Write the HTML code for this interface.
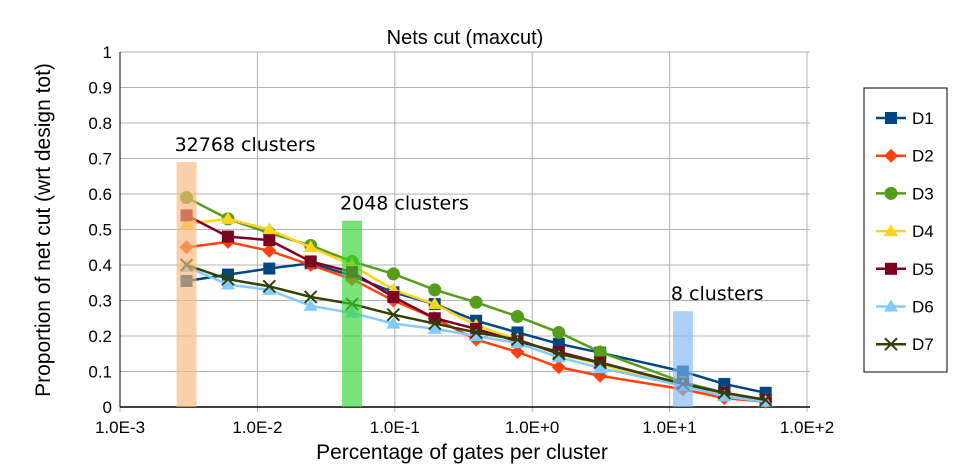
<!DOCTYPE html>
<html><head><meta charset="utf-8"><style>
body{margin:0;background:#fff;font-family:"Liberation Sans","DejaVu Sans",sans-serif}
</style></head><body>
<svg id="c" width="979" height="471" xmlns="http://www.w3.org/2000/svg"></svg>
<script>
const clusters=[32768,16384,8192,4096,2048,1024,512,256,128,64,32,8,4,2];
const seriesNames=["D1","D2","D3","D4","D5","D6","D7"];
const D1=[0.355,0.373,0.39,0.405,0.37,0.323,0.29,0.243,0.21,0.178,0.153,0.10,0.065,0.04];
const D2=[0.45,0.465,0.44,0.40,0.36,0.30,0.25,0.19,0.155,0.112,0.088,0.05,0.025,0.015];
const D3=[0.59,0.53,0.49,0.455,0.41,0.375,0.33,0.295,0.255,0.21,0.155,0.07,0.04,0.02];
const D4=[0.515,0.53,0.50,0.45,0.40,0.33,0.29,0.23,0.19,0.15,0.12,0.06,0.035,0.015];
const D5=[0.54,0.48,0.47,0.41,0.38,0.31,0.25,0.22,0.185,0.155,0.125,0.065,0.04,0.02];
const D6=[0.395,0.345,0.33,0.285,0.265,0.235,0.22,0.20,0.18,0.14,0.11,0.06,0.03,0.015];
const D7=[0.40,0.36,0.34,0.31,0.29,0.26,0.235,0.21,0.19,0.15,0.125,0.065,0.04,0.02];
const highlightClusters=[32768,2048,8];
const highlightHeights=[0.69,0.525,0.27];
const highlightLabels=["32768 clusters","2048 clusters","8 clusters"];
const xTickLabels=["1.0E-3","1.0E-2","1.0E-1","1.0E+0","1.0E+1","1.0E+2"];
const yTicks=[0,0.1,0.2,0.3,0.4,0.5,0.6,0.7,0.8,0.9,1];

const svg=document.getElementById('c');const NS="http://www.w3.org/2000/svg";
const L=120,R=810,T=52,B=407;
const xs=v=>L+(Math.log10(v)+3)*137.4;
const ys=v=>B-v*(B-T);
function mk(t,a,p){const e=document.createElementNS(NS,t);for(const k in a)e.setAttribute(k,a[k]);(p||svg).appendChild(e);return e;}
yTicks.forEach(v=>{const g=mk('line',{x1:L,x2:R,y1:ys(v),y2:ys(v),stroke:'#b3b3b3','stroke-width':1});

const t=mk('text',{x:L-8,y:ys(v)+6,'text-anchor':'end','font-size':17,fill:'#000'});t.textContent=v===0?'0':(v===1?'1':String(v));
});
xTickLabels.forEach((s,i)=>{const x=L+i*137.4;const g=mk('line',{x1:x,x2:x,y1:T,y2:B+5,stroke:'#b3b3b3'});

const t=mk('text',{x:x,y:B+26,'text-anchor':'middle','font-size':17});t.textContent=s;
});
let ax=mk('line',{x1:L,x2:R,y1:B,y2:B,stroke:'#000','stroke-width':1.5});
ax=mk('line',{x1:L,x2:L,y1:T,y2:B,stroke:'#000','stroke-width':1});
const data=[D1,D2,D3,D4,D5,D6,D7];
const cols=['#004586','#ff420e','#579d1c','#ffd320','#7e0021','#83caff','#314004'];
const marks=['sq','dia','cir','tri','sq','tri','x'];
function marker(m,x,y,c,g){let e;
if(m==='sq')e=mk('rect',{x:x-6,y:y-6,width:12,height:12,fill:c},g);
else if(m==='cir')e=mk('circle',{cx:x,cy:y,r:6.5,fill:c},g);
else if(m==='dia')e=mk('polygon',{points:`${x},${y-7} ${x+7},${y} ${x},${y+7} ${x-7},${y}`,fill:c},g);
else if(m==='tri')e=mk('polygon',{points:`${x},${y-7} ${x+7},${y+5} ${x-7},${y+5}`,fill:c},g);
else e=mk('path',{d:`M${x-6} ${y-6}L${x+6} ${y+6}M${x+6} ${y-6}L${x-6} ${y+6}`,stroke:c,'stroke-width':2},g);
}
data.forEach((d,si)=>{const g=mk('g',{});
const pts=d.map((v,i)=>xs(100/clusters[i])+','+ys(v)).join(' ');
const pl=mk('polyline',{points:pts,fill:'none',stroke:cols[si],'stroke-width':2.5},g);
d.forEach((v,i)=>marker(marks[si],xs(100/clusters[i]),ys(v),cols[si],g));});
const hc=['#f9b77a','#33d633','#80b8f5'];
highlightClusters.forEach((c,i)=>{const x=xs(100/c);const r=mk('rect',{x:x-10,y:ys(highlightHeights[i]),width:20,height:B-ys(highlightHeights[i]),fill:hc[i],opacity:0.65});

const t=mk('text',{x:x-12,y:ys(highlightHeights[i])-11,'font-size':19,'font-family':'DejaVu Sans,sans-serif'});t.textContent=highlightLabels[i];
});
let t=mk('text',{x:465,y:44,'text-anchor':'middle','font-size':20});t.textContent='Nets cut (maxcut)';
t=mk('text',{x:462,y:459,'text-anchor':'middle','font-size':21});t.textContent='Percentage of gates per cluster';
t=mk('text',{x:0,y:0,'text-anchor':'middle','font-size':21,transform:'translate(50,230) rotate(-90)'});t.textContent='Proportion of net cut (wrt design tot)';
const lg=mk('g',{});
const lb=mk('rect',{x:864,y:88,width:83,height:284,fill:'#fff',stroke:'#000'},lg);
seriesNames.forEach((n,i)=>{const y=118+i*37.7;const e=mk('g',{},lg);
const l=mk('line',{x1:876,x2:906,y1:y,y2:y,stroke:cols[i],'stroke-width':2.5},e);
marker(marks[i],891,y,cols[i],e);
const tx=mk('text',{x:912,y:y+6,'font-size':17},e);tx.textContent=n;});
</script>
</body></html>
